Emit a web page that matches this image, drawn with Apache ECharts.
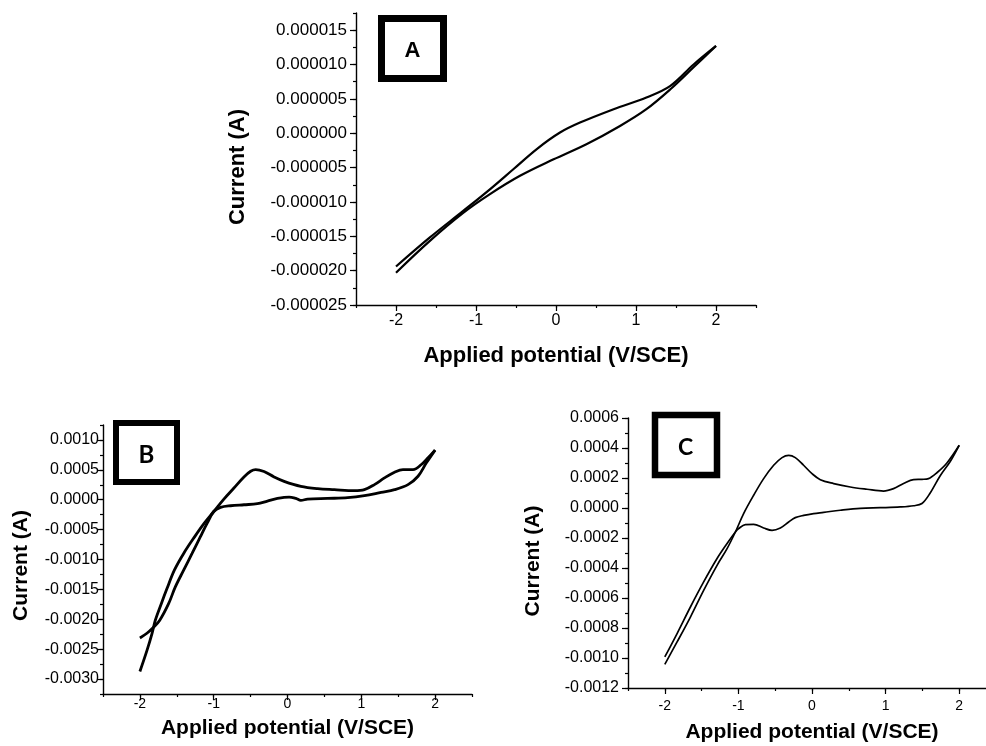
<!DOCTYPE html>
<html>
<head>
<meta charset="utf-8">
<script src="https://cdn.jsdelivr.net/npm/echarts@6/dist/echarts.min.js"></script>
<style>
html,body{margin:0;padding:0;background:#fff;}
#chart{width:986px;height:746px;}
</style>
</head>
<body>
<div id="chart"></div>
<script>
// ---------- Data (potential in V/SCE, current in A) ----------
// Panel A
const aFwdV = [-2.0, -1.58, -1.16, -0.83, -0.45, -0.03, 0.38, 0.80, 1.13, 1.43, 1.72, 2.0];
const aFwdI = [-20.3e-6, -15.7e-6, -11.6e-6, -8.9e-6, -6.2e-6, -3.8e-6, -1.6e-6, 1.06e-6, 3.5e-6, 6.4e-6, 9.6e-6, 12.7e-6];
const aRevV = [2.0, 1.72, 1.43, 1.13, 0.72, 0.30, 0.05, -0.24, -0.53, -0.83, -1.16, -1.58, -2.0];
const aRevI = [12.7e-6, 10.0e-6, 6.9e-6, 5.2e-6, 3.5e-6, 1.55e-6, 0.1e-6, -2.3e-6, -5.2e-6, -8.2e-6, -11.3e-6, -15.2e-6, -19.4e-6];

// Panel B
const bAnodV = [-2.0, -1.905, -1.837, -1.792, -1.71, -1.633, -1.533, -1.407, -1.257, -1.135, -0.999, -0.862, -0.726, -0.590, -0.499, -0.431, -0.318, -0.182, -0.046, 0.181, 0.408, 0.634, 0.906, 1.042, 1.178, 1.314, 1.450, 1.565, 1.701, 1.814, 1.905, 2.0];
const bAnodI = [-2.874e-3, -2.525e-3, -2.245e-3, -2.02e-3, -1.739e-3, -1.487e-3, -1.178e-3, -0.898e-3, -0.617e-3, -0.404e-3, -0.197e-3, 0.011e-3, 0.196e-3, 0.382e-3, 0.477e-3, 0.505e-3, 0.471e-3, 0.382e-3, 0.308e-3, 0.224e-3, 0.185e-3, 0.168e-3, 0.151e-3, 0.168e-3, 0.253e-3, 0.365e-3, 0.460e-3, 0.505e-3, 0.505e-3, 0.589e-3, 0.702e-3, 0.830e-3];
const bCathV = [2.0, 1.882, 1.769, 1.633, 1.450, 1.269, 1.042, 0.816, 0.544, 0.272, 0.181, 0.113, 0.022, -0.136, -0.272, -0.408, -0.590, -0.771, -0.907, -0.999, -1.088, -1.180, -1.293, -1.407, -1.520, -1.611, -1.733, -1.815, -1.905, -2.0];
const bCathI = [0.830e-3, 0.617e-3, 0.393e-3, 0.253e-3, 0.168e-3, 0.123e-3, 0.067e-3, 0.034e-3, 0.022e-3, 0.011e-3, -0.011e-3, 0.022e-3, 0.045e-3, 0.022e-3, -0.022e-3, -0.067e-3, -0.084e-3, -0.101e-3, -0.129e-3, -0.197e-3, -0.393e-3, -0.617e-3, -0.898e-3, -1.178e-3, -1.459e-3, -1.739e-3, -2.02e-3, -2.133e-3, -2.234e-3, -2.312e-3];

// Panel C
const cAnodV = [-2.0, -1.833, -1.652, -1.472, -1.290, -1.154, -1.041, -0.929, -0.793, -0.657, -0.521, -0.407, -0.317, -0.227, -0.114, 0.0, 0.113, 0.294, 0.520, 0.747, 0.972, 1.108, 1.244, 1.380, 1.494, 1.583, 1.697, 1.833, 2.0];
const cAnodI = [-1.042e-3, -0.893e-3, -0.727e-3, -0.549e-3, -0.382e-3, -0.271e-3, -0.160e-3, -0.037e-3, 0.085e-3, 0.196e-3, 0.285e-3, 0.336e-3, 0.351e-3, 0.336e-3, 0.285e-3, 0.229e-3, 0.189e-3, 0.163e-3, 0.140e-3, 0.125e-3, 0.113e-3, 0.129e-3, 0.163e-3, 0.189e-3, 0.191e-3, 0.196e-3, 0.235e-3, 0.300e-3, 0.418e-3];
const cCathV = [2.0, 1.878, 1.742, 1.606, 1.494, 1.380, 1.199, 0.927, 0.656, 0.384, 0.158, 0.022, -0.114, -0.227, -0.317, -0.430, -0.543, -0.657, -0.793, -0.906, -0.996, -1.041, -1.154, -1.290, -1.472, -1.652, -1.833, -2.0];
const cCathI = [0.418e-3, 0.310e-3, 0.215e-3, 0.100e-3, 0.030e-3, 0.015e-3, 0.007e-3, 0.002e-3, -0.002e-3, -0.015e-3, -0.029e-3, -0.037e-3, -0.049e-3, -0.064e-3, -0.093e-3, -0.133e-3, -0.149e-3, -0.133e-3, -0.109e-3, -0.111e-3, -0.137e-3, -0.160e-3, -0.237e-3, -0.337e-3, -0.493e-3, -0.660e-3, -0.837e-3, -0.993e-3];

// Tick values
const xMajorTicks = [-2, -1, 0, 1, 2];
const aYMajorTicks = [-25e-6, -20e-6, -15e-6, -10e-6, -5e-6, 0, 5e-6, 10e-6, 15e-6];
const bYMajorTicks = [-3.0e-3, -2.5e-3, -2.0e-3, -1.5e-3, -1.0e-3, -0.5e-3, 0, 0.5e-3, 1.0e-3];
const cYMajorTicks = [-1.2e-3, -1.0e-3, -0.8e-3, -0.6e-3, -0.4e-3, -0.2e-3, 0, 0.2e-3, 0.4e-3, 0.6e-3];

const panelLabels = ['A', 'B', 'C'];
const xTitle = 'Applied potential (V/SCE)';
const yTitle = 'Current (A)';

// ---------- Helpers ----------
function zip(xs, ys) { return xs.map((x, i) => [x, ys[i]]); }
function isMult(v, step) { const r = v / step; return Math.abs(r - Math.round(r)) < 1e-6; }
const FONT = 'Liberation Sans, Arial, sans-serif';

function mainX(grid, labelSize, margin) {
  return {
    gridIndex: grid, type: 'value', min: -2.5, max: 2.5, interval: 0.5,
    axisLine: { show: true, onZero: false, lineStyle: { color: '#000', width: 1.4 } },
    axisTick: { show: true, inside: false, length: 3, lineStyle: { color: '#000', width: 1.2 } },
    axisLabel: {
      show: true, margin: margin, color: '#000', fontFamily: FONT, fontSize: labelSize,
      formatter: v => isMult(v, 1) ? String(Math.round(v)) : ''
    },
    splitLine: { show: false }
  };
}
function overlayX(grid) {
  return {
    gridIndex: grid, type: 'value', min: -2.5, max: 2.5, interval: 0.5, position: 'bottom',
    axisLine: { show: false, onZero: false },
    axisTick: { show: true, inside: false, length: 6, customValues: xMajorTicks, lineStyle: { color: '#000', width: 1.2 } },
    axisLabel: { show: false },
    splitLine: { show: false }
  };
}
function mainY(grid, min, max, minorStep, majorStep, decimals, labelSize, margin) {
  return {
    gridIndex: grid, type: 'value', min: min, max: max, interval: minorStep, position: 'left',
    axisLine: { show: true, onZero: false, lineStyle: { color: '#000', width: 1.4 } },
    axisTick: { show: true, inside: false, length: 3, lineStyle: { color: '#000', width: 1.2 } },
    axisLabel: {
      show: true, margin: margin, color: '#000', fontFamily: FONT, fontSize: labelSize,
      formatter: v => {
        if (!isMult(v, majorStep)) return '';
        const r = Math.round(v / majorStep) * majorStep;
        return (Math.abs(r) < 1e-12 ? 0 : r).toFixed(decimals);
      }
    },
    splitLine: { show: false }
  };
}
function overlayY(grid, min, max, minorStep, ticks, len) {
  return {
    gridIndex: grid, type: 'value', min: min, max: max, interval: minorStep, position: 'left',
    axisLine: { show: false, onZero: false },
    axisTick: { show: true, inside: false, length: len, customValues: ticks, lineStyle: { color: '#000', width: 1.2 } },
    axisLabel: { show: false },
    splitLine: { show: false }
  };
}
function curve(xi, yi, data, w) {
  return {
    type: 'line', xAxisIndex: xi, yAxisIndex: yi, data: data,
    showSymbol: false, symbol: 'none', smooth: 0.35, silent: true,
    lineStyle: { color: '#000', width: w }, animation: false
  };
}

// ---------- Layout ----------
const grids = [
  { left: 356, top: 13, width: 400, height: 292, outerBoundsMode: 'none', containLabel: false },
  { left: 103, top: 425, width: 369, height: 269, outerBoundsMode: 'none', containLabel: false },
  { left: 628, top: 418, width: 368, height: 270, outerBoundsMode: 'none', containLabel: false }
];

const xA = mainX(0, 16, 8);
xA.name = xTitle; xA.nameLocation = 'middle'; xA.nameGap = 40;
xA.nameTextStyle = { fontFamily: FONT, fontWeight: 'bold', fontSize: 22, color: '#000' };
const xB = mainX(1, 14, 3);
xB.name = xTitle; xB.nameLocation = 'middle'; xB.nameGap = 24;
xB.nameTextStyle = { fontFamily: FONT, fontWeight: 'bold', fontSize: 21, color: '#000' };
const xC = mainX(2, 14, 11);
xC.name = xTitle; xC.nameLocation = 'middle'; xC.nameGap = 34;
xC.nameTextStyle = { fontFamily: FONT, fontWeight: 'bold', fontSize: 21, color: '#000' };

const yA = mainY(0, -25e-6, 17.5e-6, 2.5e-6, 5e-6, 6, 17, 9);
yA.name = yTitle; yA.nameLocation = 'middle'; yA.nameGap = 107; yA.nameRotate = 90;
yA.nameTextStyle = { fontFamily: FONT, fontWeight: 'bold', fontSize: 22, color: '#000', padding: [0, 16, 0, 0] };
const yB = mainY(1, -3.25e-3, 1.25e-3, 0.25e-3, 0.5e-3, 4, 16, 4);
yB.name = yTitle; yB.nameLocation = 'middle'; yB.nameGap = 71; yB.nameRotate = 90;
yB.nameTextStyle = { fontFamily: FONT, fontWeight: 'bold', fontSize: 21, color: '#000', padding: [0, 12, 0, 0] };
const yC = mainY(2, -1.2e-3, 0.6e-3, 0.1e-3, 0.2e-3, 4, 16, 9);
yC.name = yTitle; yC.nameLocation = 'middle'; yC.nameGap = 84; yC.nameRotate = 90;
yC.nameTextStyle = { fontFamily: FONT, fontWeight: 'bold', fontSize: 21, color: '#000', padding: [0, 16, 0, 0] };

const option = {
  backgroundColor: '#ffffff',
  animation: false,
  grid: grids,
  xAxis: [xA, overlayX(0), xB, overlayX(1), xC, overlayX(2)],
  yAxis: [
    yA, overlayY(0, -25e-6, 17.5e-6, 2.5e-6, aYMajorTicks, 6),
    yB, overlayY(1, -3.25e-3, 1.25e-3, 0.25e-3, bYMajorTicks, 5),
    yC, overlayY(2, -1.2e-3, 0.6e-3, 0.1e-3, cYMajorTicks, 6)
  ],
  series: [
    curve(0, 0, zip(aFwdV, aFwdI), 2.2),
    curve(0, 0, zip(aRevV, aRevI), 2.2),
    curve(2, 2, zip(bAnodV, bAnodI), 2.8),
    curve(2, 2, zip(bCathV, bCathI), 2.8),
    curve(4, 4, zip(cAnodV, cAnodI), 1.7),
    curve(4, 4, zip(cCathV, cCathI), 1.7)
  ],
  graphic: [
    { type: 'rect', shape: { x: 381.5, y: 18.5, width: 62, height: 60 }, style: { fill: '#fff', stroke: '#000', lineWidth: 7 } },
    { type: 'text', x: 412.5, y: 51, style: { text: panelLabels[0], fontFamily: FONT, fontWeight: 'bold', fontSize: 22, fill: '#000', align: 'center', verticalAlign: 'middle' } },
    { type: 'rect', shape: { x: 116, y: 423, width: 61, height: 59 }, style: { fill: '#fff', stroke: '#000', lineWidth: 6 } },
    { type: 'text', x: 146.5, y: 455, style: { text: panelLabels[1], fontFamily: 'Lato, Open Sans, sans-serif', fontWeight: 'bold', fontSize: 24, fill: '#000', align: 'center', verticalAlign: 'middle' } },
    { type: 'rect', shape: { x: 655, y: 415, width: 62, height: 60 }, style: { fill: '#fff', stroke: '#000', lineWidth: 6.5 } },
    { type: 'text', x: 685.5, y: 448, style: { text: panelLabels[2], fontFamily: 'Lato, Open Sans, sans-serif', fontWeight: 'bold', fontSize: 23, fill: '#000', align: 'center', verticalAlign: 'middle' } }
  ]
};

const chart = echarts.init(document.getElementById('chart'), null, { renderer: 'canvas', width: 986, height: 746 });
chart.setOption(option);
</script>
</body>
</html>
